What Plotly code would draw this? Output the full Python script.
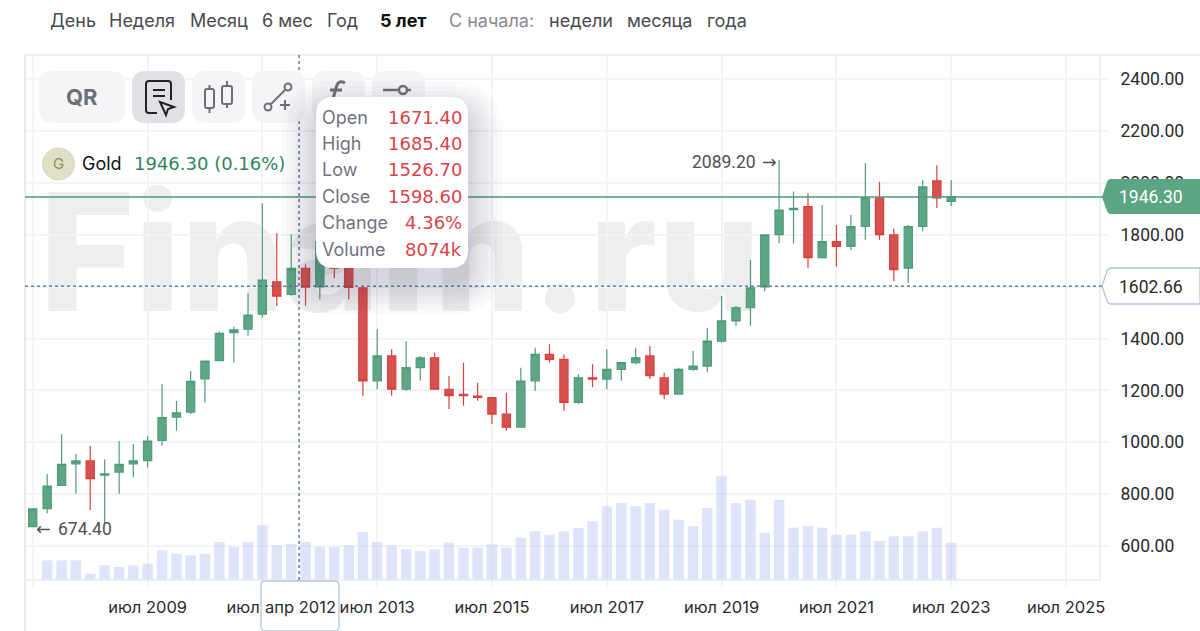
# Gold quarterly candlesticks, 5 year view
import pandas as pd
import plotly.graph_objects as go

W, H = 1200, 631
FONT = "Inter"
NUM_FONT = "Roboto"
WIDE_FONT = "DejaVu Sans"

# Quarterly candles from July 2007 to July 2023
dates = pd.date_range("2007-07-01", periods=65, freq="QS-JAN")
opens = [674.4, 744, 834, 917, 928, 873, 885, 917, 929, 1007, 1097, 1116, 1245, 1315, 1423, 1436,
         1494, 1619, 1570, 1671.4, 1599, 1780, 1690, 1596, 1237, 1333, 1205, 1288, 1326, 1204,
         1185, 1178, 1172, 1109, 1058, 1237, 1339, 1320, 1154, 1249, 1244, 1281, 1307, 1333,
         1249, 1186, 1281, 1294, 1390, 1468, 1519, 1599, 1801, 1897, 1909, 1712, 1774, 1756,
         1833, 1943, 1800, 1672, 1833, 2008, 1929]
highs = [743, 878, 1031, 955, 986, 934, 1005, 993, 1024, 1224, 1159, 1275, 1313, 1427, 1447, 1575,
         1922, 1806, 1802, 1685.4, 1790, 1800, 1720, 1596, 1436, 1359, 1390, 1333, 1346, 1256,
         1307, 1230, 1172, 1191, 1288, 1365, 1378, 1339, 1262, 1301, 1359, 1307, 1365, 1371,
         1268, 1288, 1352, 1442, 1564, 1526, 1703, 1800, 2089.2, 1967, 1960, 1915, 1838, 1877,
         2076, 2005, 1825, 1838, 2012, 2069, 2012]
lows = [674.4, 726, 834, 802, 739, 688, 802, 865, 903, 987, 1045, 1109, 1153, 1315, 1307, 1411,
        1480, 1526, 1565, 1526.7, 1551, 1633, 1551, 1178, 1205, 1180, 1199, 1237, 1205, 1128,
        1141, 1160, 1071, 1045, 1058, 1199, 1307, 1122, 1148, 1212, 1205, 1237, 1301, 1244,
        1167, 1186, 1276, 1270, 1384, 1449, 1449, 1583, 1767, 1767, 1673, 1712, 1678, 1742,
        1781, 1781, 1621, 1614, 1814, 1904, 1910]
closes = [743, 831, 915, 928, 860, 878, 915, 928, 1005, 1095, 1114, 1235, 1313, 1420, 1434, 1491,
          1626, 1564, 1671, 1598.6, 1774, 1672, 1597, 1237, 1333, 1205, 1288, 1326, 1205, 1180,
          1180, 1173, 1109, 1058, 1236, 1339, 1320, 1154, 1249, 1244, 1281, 1307, 1326, 1257,
          1186, 1281, 1294, 1390, 1468, 1519, 1596, 1800, 1896, 1902, 1712, 1774, 1756, 1832,
          1943, 1801, 1666, 1832, 1985, 1943, 1946.3]
# Volume in thousands, first quarter has no bar
volumes = [None, 4180, 4180, 4180, 1345, 3117, 2762, 3117, 3470, 6305, 5595, 5242, 5595, 8075, 7012,
           8075, 11617, 7367, 7650, 8074, 7012, 7012, 7367, 10200, 8075, 7367, 6517, 6162, 6517,
           7933, 6871, 6871, 7579, 6871, 8996, 10342, 9633, 10342, 11050, 12467, 15654, 16362,
           15654, 16362, 14946, 12821, 11404, 15300, 22029, 16362, 17071, 10058, 17071, 11121,
           11475, 11121, 9633, 9633, 10342, 8288, 9279, 9279, 10342, 11121, 7933]

price_ticks = [600, 800, 1000, 1200, 1400, 1600, 1800, 2000, 2200, 2400]
price_labels = ["600.00", "800.00", "1000.00", "1200.00", "1400.00", "1600.00", "1800.00",
                "2000.00", "2200.00", "2400.00"]
time_ticks = ["2007-07-01", "2009-07-01", "2011-07-01", "2013-07-01", "2015-07-01", "2017-07-01",
              "2019-07-01", "2021-07-01", "2023-07-01", "2025-07-01"]
time_labels = ["", "июл 2009", "июл 2011", "июл 2013", "июл 2015", "июл 2017", "июл 2019",
               "июл 2021", "июл 2023", "июл 2025"]

last_price = 1946.30
cross_price = 1602.66
cross_date = "2012-02-20"
cross_label = "апр 2012"
max_price = 2089.20
min_price = 674.40
tooltip_rows = [("Open", "1671.40"), ("High", "1685.40"), ("Low", "1526.70"),
                ("Close", "1598.60"), ("Change", "4.36%"), ("Volume", "8074k")]
period_tabs = [("День", 50), ("Неделя", 109), ("Месяц", 190), ("6 мес", 262), ("Год", 327)]
since_tabs = [("недели", 549), ("месяца", 627), ("года", 707)]

GREEN, GREEN_DARK, RED, RED_DARK = "#5ea686", "#4f9c79", "#d5524f", "#d9403f"
GRID, FRAME, TEXT = "#f3f4f6", "#e8ebf0", "#2a2a2e"
ICON = "#6f6f78"


def fx(x):
    return x / W


def fy(y):
    return 1 - y / H


def pp(s):
    # pixel path string to paper coordinates
    out, is_x = [], True
    for tok in s.split():
        if tok.isalpha():
            out.append(tok)
        else:
            out.append(str(fx(float(tok)) if is_x else fy(float(tok))))
            is_x = not is_x
    return " ".join(out)


def rrect(x0, y0, x1, y1, r):
    return (f"M {x0 + r} {y0} L {x1 - r} {y0} Q {x1} {y0} {x1} {y0 + r} L {x1} {y1 - r} "
            f"Q {x1} {y1} {x1 - r} {y1} L {x0 + r} {y1} Q {x0} {y1} {x0} {y1 - r} "
            f"L {x0} {y0 + r} Q {x0} {y0} {x0 + r} {y0} Z")


shapes = []


def add_path(s, fill="rgba(0,0,0,0)", line=None, width=0, layer="above"):
    shapes.append(dict(type="path", xref="paper", yref="paper", path=pp(s), fillcolor=fill, layer=layer,
                       line=dict(color=line or "rgba(0,0,0,0)", width=width)))


def add_circle(cx, cy, r, fill, line, width):
    shapes.append(dict(type="circle", xref="paper", yref="paper", x0=fx(cx - r), x1=fx(cx + r),
                       y0=fy(cy + r), y1=fy(cy - r), fillcolor=fill, line=dict(color=line, width=width)))


annotations = []


def add_text(x, y, text, size=18, color=TEXT, anchor="left", weight=400, family=FONT):
    # annotations carry about 2px of padding
    pad = {"left": -2, "right": 2, "center": 0}[anchor]
    annotations.append(dict(x=fx(x + pad), y=fy(y), xref="paper", yref="paper", text=text, showarrow=False,
                            xanchor=anchor, yanchor="middle", font=dict(family=family, size=size, color=color,
                                                                        weight=weight)))


def add_mark(date, price, text, shift, anchor, family=NUM_FONT):
    annotations.append(dict(x=date, y=price, xref="x", yref="y", text=text, showarrow=False, xanchor=anchor,
                            yanchor="middle", xshift=shift, yshift=-2,
                            font=dict(family=family, size=17.5, color="#4f4f55")))


# watermark goes under the candles
shapes.append(dict(type="rect", xref="paper", yref="paper", x0=fx(45), x1=fx(755), y0=fy(326), y1=fy(166),
                   layer="below", fillcolor="rgba(0,0,0,0)", line=dict(width=0),
                   label=dict(text="Finam.ru", textposition="middle center",
                              font=dict(family=FONT, size=163, color="#eeeeef", weight=800))))

# frame
add_path("M 25 55 L 1200 55", line=FRAME, width=1.5)
add_path("M 25 55 L 25 631", line=FRAME, width=2)
add_path("M 1100 55 L 1100 580 L 25 580", line=FRAME, width=1.5)

# price line and crosshair
shapes.append(dict(type="line", xref="paper", yref="y", x0=fx(25), x1=fx(1103), y0=last_price, y1=last_price,
                   line=dict(color="#4d9a78", width=1.5)))
shapes.append(dict(type="line", xref="paper", yref="y", x0=fx(25), x1=fx(1103), y0=cross_price, y1=cross_price,
                   line=dict(color="#4a6490", width=1.3, dash="3px,3px")))
shapes.append(dict(type="line", xref="x", yref="paper", x0=cross_date, x1=cross_date, y0=fy(580), y1=fy(55),
                   line=dict(color="#4a6490", width=1.3, dash="3px,3px")))

# price tags on the right
add_path("M 1102 197 L 1107 182 Q 1108 179 1111 179 L 1200 179 L 1200 214 L 1111 214 Q 1108 214 1107 211 Z",
         fill="#5ba584")
add_path("M 1102 286 L 1107 271 Q 1108 268 1111 268 L 1200 268 L 1200 304 L 1111 304 Q 1108 304 1107 301 Z",
         fill="white", line="#b8c4d8", width=1.3)
add_text(1119, 197, f"{last_price:.2f}", size=17.5, color="white", family=NUM_FONT)
add_text(1119, 287, f"{cross_price:.2f}", size=17.5, color=TEXT, family=NUM_FONT)

# crosshair date box
add_path(rrect(261, 581, 339, 631, 4), fill="white", line="#b8c4d8", width=1.3)
add_text(300, 607, cross_label, size=16.5, anchor="center")

# toolbar buttons
add_path(rrect(39, 71, 125, 123, 14), fill="#f5f5f7")
add_path(rrect(132, 71, 185, 123, 14), fill="#e0e0e6")
for bx in (192, 252, 312, 372):
    add_path(rrect(bx, 71, bx + 53, 123, 14), fill="#f5f5f7")
add_text(82, 97, "QR", size=22, color=ICON, anchor="center", weight=700)

# document + cursor icon
add_path("M 171 100 L 171 84 Q 171 81 168 81 L 149 81 Q 146 81 146 84 L 146 110 Q 146 113 149 113 L 157 113",
         line="#222228", width=2)
add_path("M 153 90 L 165 90 M 153 96 L 165 96", line="#222228", width=2)
add_path("M 160 102 L 174 107 L 168 109 L 166 115 Z", line="#222228", width=2)
# candles icon
add_path(rrect(205, 89, 214, 108, 2), line=ICON, width=2)
add_path("M 209.5 85 L 209.5 89 M 209.5 108 L 209.5 113", line=ICON, width=2)
add_path(rrect(222, 86, 232, 104, 2), line=ICON, width=2)
add_path("M 227 81 L 227 86 M 227 104 L 227 108", line=ICON, width=2)
# line + plus icon
add_path("M 271 104 L 285 90", line=ICON, width=2)
add_circle(268, 107, 3.5, "rgba(0,0,0,0)", ICON, 2)
add_circle(288, 87, 3.5, "rgba(0,0,0,0)", ICON, 2)
add_path("M 280 105 L 290 105 M 285 100 L 285 110", line=ICON, width=2)
# function icon
add_path("M 345 83 Q 338 79 336 88 L 333 99 M 330 90 L 342 90", line=ICON, width=3)
# slider icon
add_path("M 383 90 L 399 90 M 407 90 L 411 90", line=ICON, width=2.5)
add_circle(403, 90, 4, "rgba(0,0,0,0)", ICON, 2.5)

# ticker
add_circle(58.5, 164, 16, "#dfe0c6", "#d4d5c0", 1)
add_text(58.5, 164, "G", size=15, color="#8c9160", anchor="center")
add_text(82, 164, "Gold", size=18, color="#111111")
add_text(134, 164, f"{last_price:.2f} (0.16%)", size=18, color="#2f8560", family=WIDE_FONT)

# period tabs
for label, x in period_tabs:
    add_text(x, 21, label, color="#4a4a4f")
add_text(380, 21, "5 лет", color="#111111", weight=700)
add_text(449, 21, "С начала:", color="#8a8a8f")
for label, x in since_tabs:
    add_text(x, 21, label, color="#4a4a4f")

# tooltip with a soft shadow, heavier below
for grow in (34, 29, 24, 20, 16, 12, 8, 4):
    add_path(rrect(316 - grow, 97 - grow + 18, 468 + grow, 268 + grow + 12, 18 + grow), fill="rgba(60,60,85,0.024)")
add_path(rrect(316, 97, 468, 268, 18), fill="white")
for i, (name, value) in enumerate(tooltip_rows):
    row_y = 117 + i * 26.4
    add_text(322, row_y, name, color="#72727f")
    add_text(462, row_y, value, color="#d9444a", anchor="right", family=WIDE_FONT)

# high and low marks
add_mark(dates[52], max_price, "2089.20", -21, "right")
add_mark(dates[52], max_price, "→", 0, "right", family=WIDE_FONT)
add_mark(dates[0], min_price, "←", 1, "left", family=WIDE_FONT)
add_mark(dates[0], min_price, f"{min_price:.2f}", 23, "left")

fig = go.Figure()
fig.add_trace(go.Bar(x=dates, y=volumes, yaxis="y2", marker=dict(color="rgba(180,190,245,0.42)", line=dict(width=0))))
fig.add_trace(go.Candlestick(x=dates, open=opens, high=highs, low=lows, close=closes,
                             increasing=dict(fillcolor=GREEN, line=dict(color=GREEN_DARK, width=1.2)),
                             decreasing=dict(fillcolor=RED, line=dict(color=RED_DARK, width=1.2))))

fig.update_layout(
    template="none", width=W, height=H, showlegend=False,
    margin=dict(l=0, r=0, t=0, b=0, autoexpand=False),
    paper_bgcolor="white", plot_bgcolor="rgba(0,0,0,0)",
    font=dict(family=FONT, size=16, color=TEXT),
    boxgap=0.17, bargap=0.26,
    shapes=shapes, annotations=annotations,
    xaxis=dict(domain=[fx(25), fx(1100)], type="date", range=["2007-05-13", "2026-02-02"],
               rangeslider=dict(visible=False), tickmode="array", tickvals=time_ticks, ticktext=time_labels,
               tickfont=dict(family=FONT, size=16.5),
               showgrid=True, gridcolor=GRID, gridwidth=2, zeroline=False, showline=False,
               ticks="outside", ticklen=6, tickwidth=2, tickcolor=GRID, ticklabelstandoff=6),
    yaxis=dict(domain=[fy(580), fy(55)], range=[468.9, 2493.8], side="right", tickmode="array",
               tickvals=price_ticks, ticktext=price_labels, tickfont=dict(family=NUM_FONT, size=17.5),
               showgrid=True, gridcolor=GRID, gridwidth=2, zeroline=False, showline=False,
               ticks="outside", ticklen=7, tickwidth=2, tickcolor=GRID, ticklabelstandoff=9),
    yaxis2=dict(domain=[fy(580), fy(55)], range=[0, 111562], overlaying="y", side="left", visible=False),
)

# drop the default page margin so the chart fills the window
fig.write_html("out.html", config={"displayModeBar": False}, post_script="document.body.style.margin='0';")
